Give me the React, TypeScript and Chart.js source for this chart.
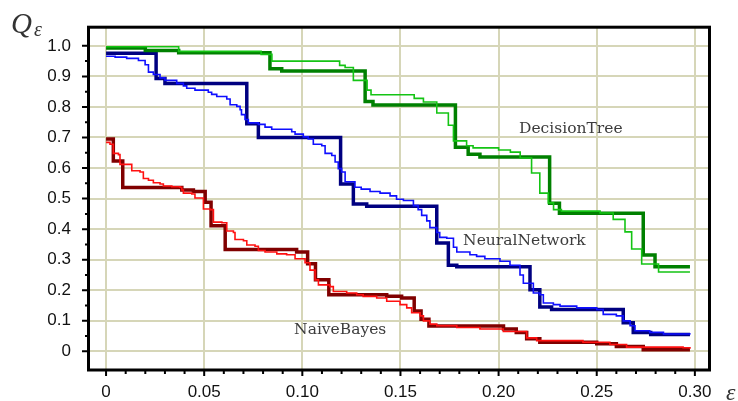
import React, { useEffect, useRef } from "react";
import { Chart, registerables } from "chart.js";

Chart.register(...registerables);

// ---- Data ----
const dtThickX = [0, 0.02, 0.037, 0.0835, 0.0895, 0.132, 0.136, 0.178, 0.1845, 0.1905, 0.226, 0.231, 0.2737, 0.2797, 0.2975];
const dtThickY = [0.993, 0.985, 0.977, 0.925, 0.918, 0.818, 0.806, 0.668, 0.645, 0.636, 0.485, 0.452, 0.315, 0.277, 0.277];

const dtThinX = [0, 0.037, 0.079, 0.0845, 0.119, 0.1218, 0.126, 0.133, 0.135, 0.157, 0.1617, 0.1685, 0.1744, 0.177, 0.1837, 0.187, 0.2, 0.206, 0.211, 0.2168, 0.221, 0.2253, 0.228, 0.232, 0.2517, 0.2584, 0.2644, 0.2678, 0.2729, 0.2815, 0.2975];
const dtThinY = [0.997, 0.982, 0.972, 0.95, 0.936, 0.929, 0.887, 0.855, 0.84, 0.828, 0.816, 0.78, 0.74, 0.689, 0.673, 0.666, 0.659, 0.652, 0.633, 0.584, 0.518, 0.486, 0.464, 0.459, 0.453, 0.432, 0.391, 0.335, 0.286, 0.26, 0.26];

const nnThickX = [0, 0.0255, 0.03, 0.0717, 0.0776, 0.1195, 0.126, 0.1328, 0.1685, 0.1744, 0.1787, 0.216, 0.221, 0.227, 0.2635, 0.2686, 0.2775, 0.2975];
const nnThickY = [0.976, 0.893, 0.877, 0.745, 0.7, 0.548, 0.482, 0.475, 0.355, 0.282, 0.277, 0.202, 0.145, 0.137, 0.094, 0.062, 0.055, 0.055];

const nnThinX = [0, 0.0046, 0.0105, 0.0165, 0.0199, 0.0216, 0.0241, 0.0275, 0.03, 0.036, 0.0394, 0.0411, 0.0453, 0.0521, 0.0538, 0.0564, 0.0615, 0.0632, 0.0666, 0.0683, 0.069, 0.0708, 0.0725, 0.0776, 0.081, 0.0844, 0.0946, 0.0963, 0.1005, 0.103, 0.1056, 0.1099, 0.1116, 0.115, 0.1167, 0.1183, 0.12, 0.1218, 0.1268, 0.13, 0.1345, 0.1396, 0.1447, 0.148, 0.1515, 0.1566, 0.159, 0.1608, 0.1634, 0.165, 0.1685, 0.17, 0.1736, 0.177, 0.1787, 0.1854, 0.1888, 0.193, 0.2007, 0.2058, 0.2109, 0.2126, 0.2177, 0.221, 0.2228, 0.2279, 0.2313, 0.2398, 0.25, 0.2533, 0.26, 0.2635, 0.267, 0.2695, 0.277, 0.284, 0.2975];
const nnThinY = [0.966, 0.963, 0.959, 0.952, 0.938, 0.914, 0.906, 0.895, 0.887, 0.877, 0.869, 0.861, 0.855, 0.848, 0.841, 0.834, 0.826, 0.807, 0.802, 0.791, 0.775, 0.759, 0.748, 0.743, 0.734, 0.727, 0.719, 0.711, 0.702, 0.695, 0.678, 0.673, 0.648, 0.641, 0.62, 0.598, 0.587, 0.555, 0.537, 0.531, 0.523, 0.518, 0.509, 0.498, 0.494, 0.477, 0.464, 0.445, 0.427, 0.405, 0.389, 0.373, 0.37, 0.341, 0.325, 0.316, 0.311, 0.303, 0.295, 0.282, 0.25, 0.223, 0.191, 0.1855, 0.1585, 0.153, 0.148, 0.1425, 0.137, 0.121, 0.116, 0.0997, 0.0836, 0.0675, 0.062, 0.057, 0.055];

const nbThickX = [0, 0.0037, 0.0085, 0.0386, 0.0445, 0.0505, 0.0535, 0.0607, 0.0971, 0.1027, 0.1067, 0.1135, 0.143, 0.1506, 0.157, 0.1605, 0.1645, 0.2025, 0.209, 0.2143, 0.221, 0.25, 0.26, 0.2737, 0.2975];
const nbThickY = [0.695, 0.623, 0.536, 0.528, 0.523, 0.488, 0.411, 0.333, 0.325, 0.287, 0.234, 0.1855, 0.18, 0.175, 0.132, 0.105, 0.083, 0.073, 0.062, 0.041, 0.03, 0.025, 0.016, 0.005, 0.005];

const nbThinX = [0, 0.002, 0.0037, 0.0063, 0.0071, 0.0131, 0.0173, 0.019, 0.0216, 0.0241, 0.0275, 0.0292, 0.0335, 0.0377, 0.0386, 0.0394, 0.0437, 0.0453, 0.0496, 0.053, 0.0547, 0.059, 0.0615, 0.0649, 0.0657, 0.07, 0.0717, 0.0759, 0.0776, 0.081, 0.087, 0.092, 0.0963, 0.1014, 0.1039, 0.1065, 0.1082, 0.1141, 0.1158, 0.1226, 0.1277, 0.131, 0.1379, 0.143, 0.1498, 0.1532, 0.1557, 0.16, 0.1617, 0.165, 0.1685, 0.1787, 0.1905, 0.2024, 0.2143, 0.2194, 0.243, 0.2567, 0.2652, 0.294, 0.2975];
const nbThinY = [0.684, 0.678, 0.648, 0.644, 0.612, 0.591, 0.587, 0.566, 0.56, 0.552, 0.548, 0.541, 0.539, 0.537, 0.528, 0.518, 0.515, 0.502, 0.466, 0.464, 0.423, 0.421, 0.394, 0.389, 0.366, 0.362, 0.348, 0.344, 0.33, 0.325, 0.319, 0.316, 0.303, 0.29, 0.266, 0.234, 0.2175, 0.212, 0.196, 0.191, 0.1855, 0.18, 0.1747, 0.164, 0.153, 0.1425, 0.1265, 0.116, 0.0997, 0.089, 0.0836, 0.078, 0.073, 0.065, 0.044, 0.035, 0.03, 0.0225, 0.0138, 0.012, 0.0087];

// ---- Tick labels ----
const xTickValues = [0, 0.05, 0.1, 0.15, 0.2, 0.25, 0.3];
const xTickLabels = ["0", "0.05", "0.10", "0.15", "0.20", "0.25", "0.30"];
const xMinorTickValues = [0.01, 0.02, 0.03, 0.04, 0.06, 0.07, 0.08, 0.09, 0.11, 0.12, 0.13, 0.14, 0.16, 0.17, 0.18, 0.19, 0.21, 0.22, 0.23, 0.24, 0.26, 0.27, 0.28, 0.29];
const yTickValues = [0, 0.1, 0.2, 0.3, 0.4, 0.5, 0.6, 0.7, 0.8, 0.9, 1.0];
const yTickLabels = ["0", "0.1", "0.2", "0.3", "0.4", "0.5", "0.6", "0.7", "0.8", "0.9", "1.0"];
const yMinorTickValues = [0.05, 0.15, 0.25, 0.35, 0.45, 0.55, 0.65, 0.75, 0.85, 0.95];

const seriesNames = ["DecisionTree", "NeuralNetwork", "NaiveBayes"];

// ---- Styling / annotation anchors (data coordinates) ----
const nameAnchors = [
  { x: 0.2104, y: 0.727 },
  { x: 0.1819, y: 0.36 },
  { x: 0.0958, y: 0.0707 },
];

const GRID = "#d6d6b8";

function pts(xs: number[], ys: number[]) {
  return xs.map((x, i) => ({ x, y: ys[i] }));
}

function labelFor(values: number[], labels: string[], v: number) {
  const i = values.findIndex((t) => Math.abs(t - v) < 1e-9);
  return i >= 0 ? labels[i] : "";
}

const decorPlugin = {
  id: "decor",
  afterDraw(chart: any) {
    const { ctx, chartArea: a, scales } = chart;
    const xs = scales.x;
    const ys = scales.y;
    ctx.save();
    // tick marks
    ctx.strokeStyle = "#000";
    ctx.lineWidth = 2;
    ctx.beginPath();
    for (const v of xTickValues) {
      const p = xs.getPixelForValue(v);
      ctx.moveTo(p, a.bottom);
      ctx.lineTo(p, a.bottom + 6);
    }
    for (const v of xMinorTickValues) {
      const p = xs.getPixelForValue(v);
      ctx.moveTo(p, a.bottom);
      ctx.lineTo(p, a.bottom + 4);
    }
    for (const v of yTickValues) {
      const p = ys.getPixelForValue(v);
      ctx.moveTo(a.left, p);
      ctx.lineTo(a.left - 6, p);
    }
    for (const v of yMinorTickValues) {
      const p = ys.getPixelForValue(v);
      ctx.moveTo(a.left, p);
      ctx.lineTo(a.left - 3, p);
    }
    ctx.stroke();
    // frame
    ctx.lineWidth = 3;
    ctx.strokeRect(a.left + 0.5, a.top, a.right - a.left, a.bottom - a.top);

    // series names
    ctx.fillStyle = "#3c3c3c";
    ctx.font = "15.5px 'DejaVu Serif'";
    ctx.textAlign = "left";
    ctx.textBaseline = "middle";
    seriesNames.forEach((name, i) => {
      const an = nameAnchors[i];
      ctx.fillText(name, xs.getPixelForValue(an.x), ys.getPixelForValue(an.y));
    });

    // axis titles
    ctx.fillStyle = "#333";
    ctx.textBaseline = "alphabetic";
    ctx.font = "italic 29px 'Liberation Serif'";
    ctx.fillText("Q", 11, 33);
    ctx.font = "italic 20px 'Liberation Serif'";
    ctx.fillText("ε", 34, 36);
    ctx.font = "italic 24px 'Liberation Serif'";
    ctx.fillText("ε", 726, 400);
    ctx.restore();
  },
};

export default function App() {
  const ref = useRef<HTMLCanvasElement>(null);

  useEffect(() => {
    const canvas = ref.current!;
    const thick = 3.5;
    const thin = 1.6;
    const common = {
      stepped: "before" as const,
      pointRadius: 0,
      fill: false,
      borderCapStyle: "butt" as const,
      borderJoinStyle: "miter" as const,
      tension: 0,
    };
    const chart = new Chart(canvas, {
      type: "line",
      data: {
        datasets: [
          { ...common, label: "DecisionTree (thin)", data: pts(dtThinX, dtThinY), borderColor: "#14c414", borderWidth: thin },
          { ...common, label: "NeuralNetwork (thin)", data: pts(nnThinX, nnThinY), borderColor: "#0f0fff", borderWidth: thin },
          { ...common, label: "NaiveBayes (thin)", data: pts(nbThinX, nbThinY), borderColor: "#ff1010", borderWidth: thin },
          { ...common, label: "DecisionTree", data: pts(dtThickX, dtThickY), borderColor: "#008000", borderWidth: thick },
          { ...common, label: "NeuralNetwork", data: pts(nnThickX, nnThickY), borderColor: "#000080", borderWidth: thick },
          { ...common, label: "NaiveBayes", data: pts(nbThickX, nbThickY), borderColor: "#800000", borderWidth: thick },
        ],
      },
      options: {
        responsive: false,
        maintainAspectRatio: false,
        devicePixelRatio: 1,
        animation: false,
        layout: { padding: { top: 21, right: 29, left: 0, bottom: 0 } },
        plugins: {
          legend: { display: false },
          tooltip: { enabled: false },
          title: { display: false },
        },
        scales: {
          x: {
            type: "linear",
            min: -0.0092,
            max: 0.3072,
            afterBuildTicks: (s: any) => {
              s.ticks = xTickValues.map((v) => ({ value: v }));
            },
            afterFit: (s: any) => {
              s.height = 31;
            },
            grid: { color: GRID, lineWidth: 2, drawTicks: false },
            border: { display: false },
            ticks: {
              padding: 12,
              autoSkip: false,
              maxRotation: 0,
              color: "#111",
              font: { family: "'Liberation Sans', Arial", size: 17 },
              callback: (v: any) => labelFor(xTickValues, xTickLabels, Number(v)),
            },
          },
          y: {
            type: "linear",
            min: -0.061,
            max: 1.061,
            afterBuildTicks: (s: any) => {
              s.ticks = yTickValues.map((v) => ({ value: v }));
            },
            afterFit: (s: any) => {
              s.width = 88;
            },
            grid: { color: GRID, lineWidth: 2, drawTicks: false },
            border: { display: false },
            ticks: {
              padding: 17,
              autoSkip: false,
              color: "#111",
              font: { family: "'Liberation Sans', Arial", size: 17 },
              callback: (v: any) => labelFor(yTickValues, yTickLabels, Number(v)),
            },
          },
        },
      },
      plugins: [decorPlugin],
    });
    return () => chart.destroy();
  }, []);

  return (
    <div style={{ position: "fixed", left: 0, top: 0, width: 738, height: 401, background: "#fff" }}>
      <canvas ref={ref} width={738} height={401} style={{ display: "block" }} />
    </div>
  );
}
